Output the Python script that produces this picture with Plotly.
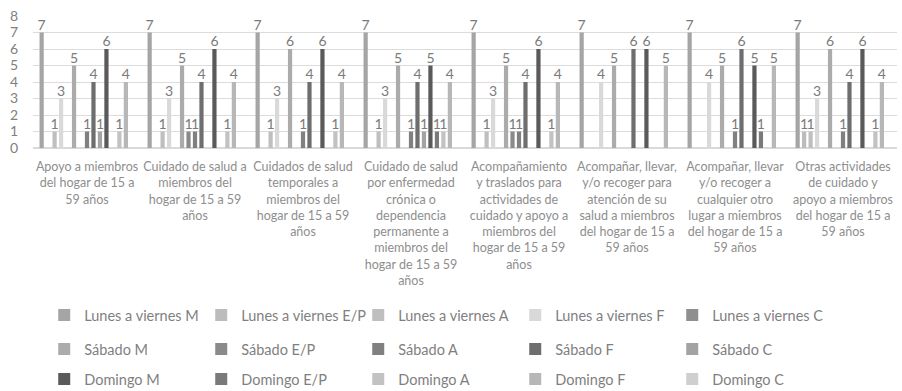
import plotly.graph_objects as go

categories = [
    "Apoyo a miembros<br>del hogar de 15 a<br>59 años",
    "Cuidado de salud a<br>miembros del<br>hogar de 15 a 59<br>años",
    "Cuidados de salud<br>temporales a<br>miembros del<br>hogar de 15 a 59<br>años",
    "Cuidado de salud<br>por enfermedad<br>crónica o<br>dependencia<br>permanente a<br>miembros del<br>hogar de 15 a 59<br>años",
    "Acompañamiento<br>y traslados para<br>actividades de<br>cuidado y apoyo a<br>miembros del<br>hogar de 15 a 59<br>años",
    "Acompañar, llevar,<br>y/o recoger para<br>atención de su<br>salud a miembros<br>del hogar de 15 a<br>59 años",
    "Acompañar, llevar<br>y/o recoger a<br>cualquier otro<br>lugar a miembros<br>del hogar de 15 a<br>59 años",
    "Otras actividades<br>de cuidado y<br>apoyo a miembros<br>del hogar de 15 a<br>59 años",
]

series_names = [
    "Lunes a viernes M", "Lunes a viernes E/P", "Lunes a viernes A", "Lunes a viernes F", "Lunes a viernes C",
    "Sábado M", "Sábado E/P", "Sábado A", "Sábado F", "Sábado C",
    "Domingo M", "Domingo E/P", "Domingo A", "Domingo F", "Domingo C",
]

# None = no respondents in that slot (no bar, no label)
lv_m = [7, 7, 7, 7, 7, 7, 7, 7]
lv_ep = [None, None, None, None, None, None, None, 1]
lv_a = [1, 1, 1, 1, 1, None, None, 1]
lv_f = [3, 3, 3, 3, 3, 4, 4, 3]
lv_c = [None] * 8
sab_m = [5, 5, 6, 5, 5, 5, 5, 6]
sab_ep = [None, 1, None, None, 1, None, None, None]
sab_a = [1, 1, 1, 1, 1, None, 1, 1]
sab_f = [4, 4, 4, 4, 4, 6, 6, 4]
sab_c = [1, None, None, 1, None, None, None, None]
dom_m = [6, 6, 6, 5, 6, 6, 5, 6]
dom_ep = [None, None, None, 1, None, None, 1, None]
dom_a = [1, 1, 1, 1, 1, None, None, 1]
dom_f = [4, 4, 4, 4, 4, 5, 5, 4]
dom_c = [None] * 8

series_values = [lv_m, lv_ep, lv_a, lv_f, lv_c,
                 sab_m, sab_ep, sab_a, sab_f, sab_c,
                 dom_m, dom_ep, dom_a, dom_f, dom_c]

colors = [
    "#a5a5a5", "#bcbcbc", "#bfbfbf", "#d9d9d9", "#8f8f8f",
    "#ababab", "#8a8a8a", "#808080", "#6e6e6e", "#a3a3a3",
    "#5a5a5a", "#7a7a7a", "#c2c2c2", "#b7b7b7", "#cfcfcf",
]

font_family = "Lato, 'Open Sans', sans-serif"

# one legend per day group, each laid out as a single row
legend_ids = ["legend", "legend2", "legend3"]
legend_rows_y = [-1.265, -1.523, -1.75]

fig = go.Figure()
for i, (name, vals, col) in enumerate(zip(series_names, series_values, colors)):
    fig.add_trace(go.Bar(
        name=name,
        x=categories,
        y=vals,
        legend=legend_ids[i // 5],
        marker=dict(color=col, line=dict(width=0)),
        text=[("" if v is None else str(v)) for v in vals],
        textposition="outside",
        constraintext="none",
        cliponaxis=False,
        textfont=dict(size=14, color="#7a7a7a", family=font_family),
    ))

legend_style = dict(
    orientation="h",
    x=0.013, xanchor="left", yanchor="middle",
    entrywidth=112, entrywidthmode="pixels",
    font=dict(size=14.5, color="#7f7f7f", family=font_family),
    itemwidth=30,
    traceorder="normal",
    bgcolor="rgba(0,0,0,0)",
)

fig.update_layout(
    width=902, height=391,
    margin=dict(l=33, r=5, t=16, b=243, autoexpand=False),
    paper_bgcolor="white", plot_bgcolor="white",
    barmode="group", bargap=0.1, bargroupgap=0.35,
    font=dict(family=font_family, color="#808080"),
    showlegend=True,
    legend=dict(legend_style, y=legend_rows_y[0]),
    legend2=dict(legend_style, y=legend_rows_y[1]),
    legend3=dict(legend_style, y=legend_rows_y[2]),
)
fig.update_xaxes(
    tickfont=dict(size=12.5, color="#8e8e8e", family=font_family),
    tickangle=0,
    ticklabelstandoff=7,
    showline=True, linecolor="#d9d9d9", ticks="",
)
fig.update_yaxes(
    range=[0, 8], dtick=1,
    showgrid=True, gridcolor="#dcdcdc", gridwidth=1,
    zeroline=True, zerolinecolor="#d9d9d9",
    tickfont=dict(size=14, color="#808080", family=font_family),
    ticklabelstandoff=14,
)

fig.write_html("out.html")
